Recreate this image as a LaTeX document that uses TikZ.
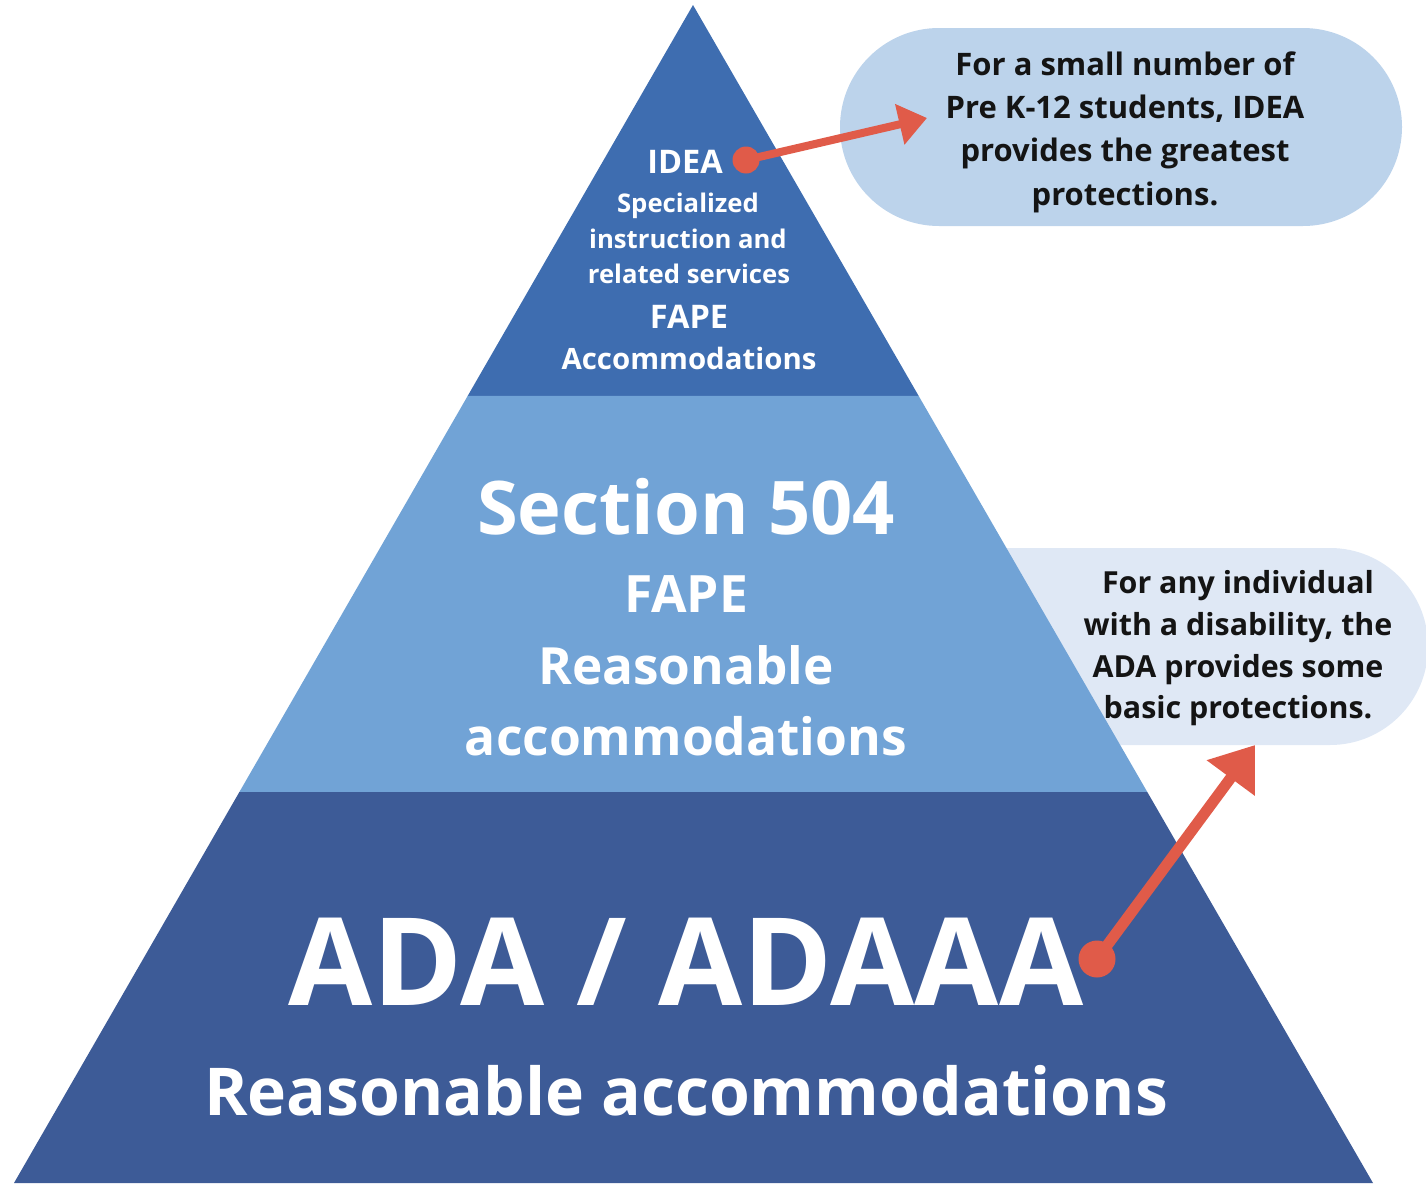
\documentclass[tikz,border=0pt]{standalone}
\usepackage{fontspec}
\setmainfont{Open Sans}
\usetikzlibrary{arrows.meta,calc}
\definecolor{tierTop}{HTML}{3E6DB0}
\definecolor{tierMid}{HTML}{71A3D6}
\definecolor{tierBot}{HTML}{3D5B97}
\definecolor{bubOne}{HTML}{BCD3EB}
\definecolor{bubTwo}{HTML}{DFE8F5}
\definecolor{arrowRed}{HTML}{E05B49}
\newcommand\fsz[1]{\fontsize{#1}{#1}\selectfont\bfseries}
\tikzset{
  tiertext/.style={text=white, anchor=base, inner sep=0pt},
  bubtext/.style={text=black!92, anchor=base, inner sep=0pt},
  pointer/.style={draw=arrowRed, line cap=round},
  dotmark/.style={circle, fill=arrowRed, inner sep=0pt},
}
\begin{document}
\begin{tikzpicture}[x=1pt,y=-1pt]
\useasboundingbox (0,0) rectangle (1426,1183);
% second bubble (behind the pyramid)
\fill[bubTwo, rounded corners=98pt] (900,548) rectangle (1428,745);
% pyramid
\coordinate (apex) at (693,5);
\coordinate (bl) at (14,1183);
\coordinate (br) at (1373,1183);
\coordinate (l1) at ($(apex)!0.3319!(bl)$);
\coordinate (r1) at ($(apex)!0.3319!(br)$);
\coordinate (l2) at ($(apex)!0.6681!(bl)$);
\coordinate (r2) at ($(apex)!0.6681!(br)$);
\fill[tierTop] (apex) -- (r1) -- (l1) -- cycle;
\fill[tierMid] (l1) -- (r1) -- (r2) -- (l2) -- cycle;
\fill[tierBot] (l2) -- (r2) -- (br) -- (bl) -- cycle;
% first bubble
\fill[bubOne, rounded corners=99pt] (840,28) rectangle (1402,226);
% top tier text
\node[tiertext, font=\fsz{32.5}] (idea) at (685,173) {IDEA};
\node[tiertext, font=\fsz{25.7}] (spec) at (688,212) {Specialized};
\node[tiertext, font=\fsz{25.7}] (instr) at (688,248) {instruction and};
\node[tiertext, font=\fsz{25.7}] (relat) at (689,283) {related services};
\node[tiertext, font=\fsz{32.5}] (fapeA) at (689,328) {FAPE};
\node[tiertext, font=\fsz{29.4}] (accA) at (689,369) {Accommodations};
% middle tier text
\node[tiertext, font=\fsz{74}] (sec) at (686,534) {Section 504};
\node[tiertext, font=\fsz{51.5}] (fapeB) at (686,612) {FAPE};
\node[tiertext, font=\fsz{51.3}] (reasB) at (686,684) {Reasonable};
\node[tiertext, font=\fsz{51.5}] (accB) at (686,755) {accommodations};
% bottom tier text
\node[tiertext, font=\fsz{122}] (ada) at (686,1005) {ADA / ADAAA};
\node[tiertext, font=\fsz{66}] (reasC) at (686,1115) {Reasonable accommodations};
% bubble one text
\node[bubtext, font=\fsz{31}] (b1a) at (1125,75) {For a small number of};
\node[bubtext, font=\fsz{31}] (b1b) at (1125,118) {Pre K-12 students, IDEA};
\node[bubtext, font=\fsz{31}] (b1c) at (1125,161) {provides the greatest};
\node[bubtext, font=\fsz{31}] (b1d) at (1125,205) {protections.};
% bubble two text
\node[bubtext, font=\fsz{30.4}] (b2a) at (1238,593) {For any individual};
\node[bubtext, font=\fsz{30.4}] (b2b) at (1238,635) {with a disability, the};
\node[bubtext, font=\fsz{30.4}] (b2c) at (1238,677) {ADA provides some};
\node[bubtext, font=\fsz{30.4}] (b2d) at (1238,718) {basic protections.};
% arrows
\node[dotmark, minimum size=27pt] (dotA) at (746,160) {};
\coordinate (tipA) at (927,118);
\draw[pointer, line width=8pt, -{Triangle[length=28pt,width=40pt]}] (dotA.center) -- (tipA);
\node[dotmark, minimum size=37pt] (dotB) at (1097,959) {};
\coordinate (tipB) at (1255,745);
\draw[pointer, line width=11pt, -{Triangle[length=41pt,width=57pt]}] (dotB.center) -- (tipB);
\end{tikzpicture}
\end{document}
